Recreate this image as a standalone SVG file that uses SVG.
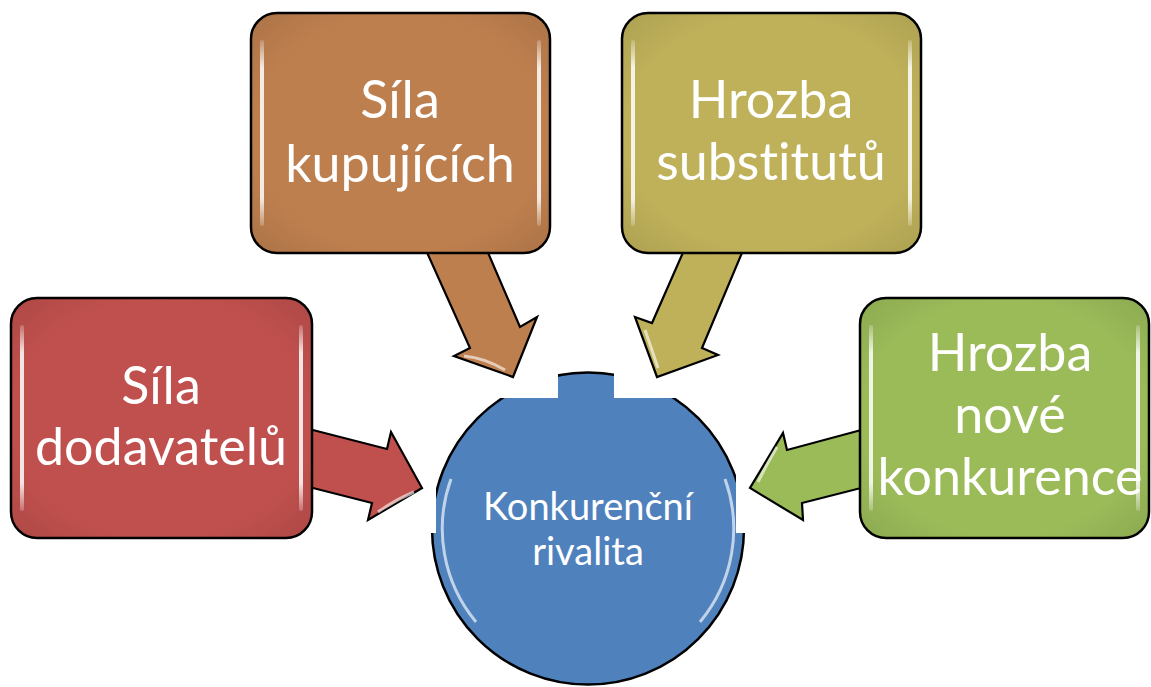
<svg xmlns="http://www.w3.org/2000/svg" width="1151" height="687" viewBox="0 0 1151 687">
<style>
.box{stroke:#000;stroke-width:2.5}
.arr{stroke:#000;stroke-width:2.2;stroke-linejoin:miter}
.t{fill:#fff;font-family:Lato,"Open Sans","Noto Sans",sans-serif;text-anchor:middle;font-variant-ligatures:none;font-feature-settings:"liga" 0,"clig" 0}
.big{font-size:52px}
.small{font-size:38px}
.hl{fill:url(#strip)}
</style>
<defs>
<linearGradient id="strip" x1="0" y1="0" x2="0" y2="1">
<stop offset="0" stop-color="#fff" stop-opacity="0.2"/>
<stop offset="0.15" stop-color="#fff" stop-opacity="0.85"/>
<stop offset="0.85" stop-color="#fff" stop-opacity="0.85"/>
<stop offset="1" stop-color="#fff" stop-opacity="0.2"/>
</linearGradient>
<radialGradient id="shade" cx="0.5" cy="0.5" r="0.75">
<stop offset="0.65" stop-color="#000" stop-opacity="0"/>
<stop offset="1" stop-color="#000" stop-opacity="0.12"/>
</radialGradient>
<clipPath id="cclip">
<polygon points="558,370 614,370 614,398 736,398 736,533 760,533 760,690 410,690 410,533 436,533 436,398 558,398"/>
</clipPath>
</defs>

<g id="connectors">
<g id="arrow-dodavatelu">
<polygon class="arr" fill="#C0504D" points="305,428 387,449 391,432 422,488 368,520 372,503 305,486"/>
<path d="M378,512 Q395,500 414,492" stroke="#fff" stroke-opacity="0.6" stroke-width="3" fill="none"/>
</g>
<g id="arrow-kupujicich">
<polygon class="arr" fill="#BE7F4E" points="425,248 486,248 520,327 537,317 513,377 454,356 470,348"/>
<path d="M464,356 Q485,358 505,370" stroke="#fff" stroke-opacity="0.6" stroke-width="3" fill="none"/>
</g>
<g id="arrow-substitutu">
<polygon class="arr" fill="#BFB15A" points="685,248 744,248 702,348 718,355 657,377 635,317 652,323"/>
<path d="M645,330 Q652,350 658,368" stroke="#fff" stroke-opacity="0.6" stroke-width="3" fill="none"/>
</g>
<g id="arrow-nove">
<polygon class="arr" fill="#9BBB59" points="865,429 787,450 783,433 750,488 803,520 802,503 865,487"/>
<path d="M777,447 Q768,462 758,482" stroke="#fff" stroke-opacity="0.6" stroke-width="3" fill="none"/>
</g>
</g>

<g id="node-kupujicich">
<rect class="box" x="251" y="13" width="299" height="240" rx="26" fill="#BE7F4E"/>
<rect x="251" y="13" width="299" height="240" rx="26" fill="url(#shade)"/>
<rect class="hl" x="260" y="40" width="4" height="186" rx="2"/>
<rect class="hl" x="537" y="40" width="4" height="186" rx="2"/>
<text class="t big" x="400" y="118">Síla</text>
<text class="t big" x="400" y="182">kupujících</text>
</g>

<g id="node-substitutu">
<rect class="box" x="622" y="13" width="299" height="240" rx="26" fill="#BFB15A"/>
<rect x="622" y="13" width="299" height="240" rx="26" fill="url(#shade)"/>
<rect class="hl" x="631" y="40" width="4" height="186" rx="2"/>
<rect class="hl" x="908" y="40" width="4" height="186" rx="2"/>
<text class="t big" x="771" y="118">Hrozba</text>
<text class="t big" x="771" y="180">substitutů</text>
</g>

<g id="node-dodavatelu">
<rect class="box" x="11" y="298" width="301" height="240" rx="26" fill="#C0504D"/>
<rect x="11" y="298" width="301" height="240" rx="26" fill="url(#shade)"/>
<rect class="hl" x="20" y="325" width="4" height="186" rx="2"/>
<rect class="hl" x="299" y="325" width="4" height="186" rx="2"/>
<text class="t big" x="161" y="404">Síla</text>
<text class="t big" x="161" y="465">dodavatelů</text>
</g>

<g id="node-nove">
<rect class="box" x="860" y="298" width="289" height="240" rx="26" fill="#9BBB59"/>
<rect x="860" y="298" width="289" height="240" rx="26" fill="url(#shade)"/>
<rect class="hl" x="869" y="325" width="4" height="186" rx="2"/>
<rect class="hl" x="1136" y="325" width="4" height="186" rx="2"/>
<text class="t big" x="1010" y="371">Hrozba</text>
<text class="t big" x="1010" y="433">nové</text>
<text class="t big" x="1010" y="495">konkurence</text>
</g>

<g id="node-rivalita" clip-path="url(#cclip)">
<circle cx="588" cy="528.5" r="156" fill="#4F81BD" stroke="#000" stroke-width="2.5"/>
<circle cx="588" cy="528.5" r="156" fill="url(#shade)"/>
<path d="M451,479 A146,146 0 0 0 476,622" stroke="#fff" stroke-opacity="0.65" stroke-width="3" fill="none"/>
<path d="M725,479 A146,146 0 0 1 700,622" stroke="#fff" stroke-opacity="0.65" stroke-width="3" fill="none"/>
<text class="t small" x="588" y="520">Konkurenční</text>
<text class="t small" x="588" y="565">rivalita</text>
</g>
</svg>
